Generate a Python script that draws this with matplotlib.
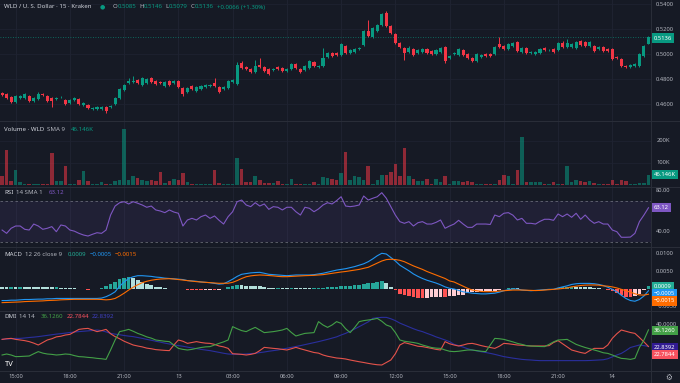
import numpy as np
import matplotlib.pyplot as plt
from matplotlib.lines import Line2D

plt.rcParams['font.family'] = ['Noto Sans', 'DejaVu Sans']

# ---- 15 min candles, WLD/USD, 14:15 day 12 -> 02:00 day 14 ----
opens = [
    .4690, .4682, .4658, .4618, .4650, .4650, .4666, .4626, .4642, .4682,
    .4666, .4650, .4642, .4658, .4634, .4610, .4634, .4642, .4594, .4594,
    .4562, .4562, .4562, .4578, .4578, .4602, .4650, .4714, .4770, .4778,
    .4794, .4754, .4770, .4810, .4786, .4778, .4746, .4786, .4770, .4786,
    .4730, .4698, .4746, .4706, .4722, .4738, .4746, .4770, .4738, .4722,
    .4730, .4778, .4762, .4930, .4898, .4882, .4858, .4914, .4898, .4882,
    .4874, .4898, .4890, .4866, .4882, .4922, .4882, .4874, .4890, .4938,
    .4898, .4906, .4978, .5010, .5010, .4994, .5066, .5010, .5018, .5042,
    .5074, .5186, .5138, .5186, .5234, .5330, .5226, .5162, .5090, .5050,
    .5018, .5042, .5010, .5018, .5042, .5026, .5002, .5018, .5058, .4970,
    .5002, .4994, .5034, .5002, .4970, .4946, .4978, .5002, .5002, .5002,
    .5082, .5066, .5042, .5066, .5098, .5018, .5050, .5010, .5002, .5010,
    .5050, .5034, .5042, .5034, .5090, .5058, .5058, .5050, .5106, .5098,
    .5066, .5066, .5042, .5058, .5042, .5042, .4978, .4962, .4906, .4898,
    .4906, .4906, .4986, .5085]
highs = [
    .4698, .4690, .4666, .4674, .4674, .4690, .4674, .4658, .4698, .4690,
    .4674, .4658, .4658, .4666, .4642, .4642, .4658, .4650, .4618, .4602,
    .4578, .4586, .4586, .4586, .4594, .4658, .4730, .4762, .4810, .4826,
    .4802, .4818, .4810, .4818, .4794, .4786, .4786, .4794, .4794, .4794,
    .4738, .4738, .4754, .4746, .4754, .4762, .4762, .4810, .4746, .4746,
    .4794, .4802, .4938, .4946, .4906, .4890, .4954, .4970, .4906, .4890,
    .4890, .4906, .4898, .4890, .4930, .4930, .4890, .4914, .4954, .4946,
    .4914, .5050, .5018, .5018, .5018, .5090, .5074, .5042, .5050, .5058,
    .5194, .5274, .5218, .5242, .5330, .5346, .5234, .5170, .5098, .5058,
    .5066, .5050, .5042, .5050, .5050, .5034, .5042, .5058, .5066, .4994,
    .5018, .5050, .5042, .5010, .4978, .5010, .5002, .5010, .5010, .5066,
    .5138, .5074, .5090, .5098, .5106, .5058, .5058, .5026, .5026, .5050,
    .5058, .5042, .5050, .5098, .5106, .5122, .5090, .5106, .5114, .5106,
    .5106, .5074, .5066, .5066, .5050, .5050, .4986, .4970, .4914, .4922,
    .4930, .5010, .5074, .5146]
lows = [
    .4666, .4642, .4610, .4610, .4642, .4642, .4618, .4618, .4634, .4666,
    .4618, .4578, .4634, .4650, .4594, .4602, .4626, .4594, .4586, .4562,
    .4554, .4554, .4554, .4530, .4570, .4594, .4642, .4706, .4762, .4770,
    .4762, .4746, .4762, .4770, .4754, .4762, .4738, .4746, .4762, .4730,
    .4666, .4690, .4714, .4698, .4714, .4730, .4738, .4738, .4690, .4714,
    .4722, .4770, .4754, .4882, .4874, .4850, .4850, .4890, .4858, .4834,
    .4866, .4874, .4858, .4858, .4874, .4882, .4850, .4866, .4882, .4898,
    .4890, .4898, .4970, .4978, .4986, .4986, .5002, .5002, .5010, .5034,
    .5066, .5138, .5130, .5178, .5226, .5218, .5162, .5082, .5050, .4954,
    .5010, .4986, .5002, .5010, .5002, .4994, .4994, .5010, .4930, .4962,
    .4994, .4986, .4986, .4962, .4938, .4938, .4970, .4978, .4978, .4994,
    .5050, .5034, .5034, .5058, .5018, .5010, .5002, .5002, .4994, .5002,
    .5026, .5026, .5010, .5026, .5050, .5050, .5050, .5042, .5066, .5058,
    .5058, .5018, .5034, .5018, .5018, .4954, .4962, .4898, .4890, .4890,
    .4898, .4898, .4978, .5079]
closes = [
    .4674, .4650, .4618, .4666, .4666, .4682, .4626, .4650, .4682, .4674,
    .4626, .4626, .4650, .4660, .4602, .4634, .4650, .4602, .4610, .4570,
    .4570, .4578, .4578, .4546, .4586, .4650, .4722, .4754, .4786, .4786,
    .4770, .4810, .4802, .4778, .4762, .4770, .4778, .4754, .4786, .4738,
    .4682, .4730, .4722, .4738, .4746, .4754, .4754, .4746, .4698, .4738,
    .4786, .4794, .4914, .4890, .4882, .4858, .4906, .4898, .4866, .4842,
    .4882, .4882, .4866, .4882, .4922, .4890, .4858, .4906, .4946, .4906,
    .4906, .4970, .5010, .4986, .4994, .5082, .5010, .5034, .5042, .5050,
    .5186, .5146, .5210, .5234, .5322, .5226, .5170, .5090, .5058, .5010,
    .5050, .4994, .5034, .5042, .5010, .5002, .5034, .5050, .4946, .4986,
    .5010, .5042, .4994, .4970, .4946, .5002, .4994, .4986, .4986, .5058,
    .5058, .5042, .5082, .5090, .5026, .5050, .5010, .5018, .5018, .5042,
    .5034, .5036, .5018, .5090, .5058, .5090, .5082, .5098, .5074, .5066,
    .5098, .5026, .5058, .5026, .5026, .4962, .4970, .4906, .4898, .4914,
    .4922, .5002, .5066, .5136]

# volume in thousands
volume = [
    38, 156, 18, 68, 10, 5, 3, 2, 1, 1,
    5, 145, 15, 15, 83, 2, 1, 23, 60, 15,
    5, 3, 10, 3, 5, 15, 20, 253, 20, 38,
    32, 23, 15, 23, 15, 58, 7, 15, 25, 20,
    55, 10, 5, 5, 5, 3, 3, 68, 8, 3,
    3, 3, 121, 71, 14, 14, 41, 20, 8, 8,
    8, 15, 5, 3, 26, 3, 4, 3, 5, 10,
    5, 33, 30, 25, 20, 53, 147, 23, 38, 33,
    20, 83, 5, 20, 42, 45, 56, 95, 38, 167,
    41, 25, 15, 15, 25, 5, 27, 10, 41, 3,
    15, 18, 12, 15, 10, 3, 3, 3, 5, 3,
    23, 45, 38, 5, 68, 217, 10, 12, 12, 12,
    5, 5, 10, 5, 5, 83, 12, 23, 15, 10,
    15, 8, 3, 3, 5, 23, 5, 20, 15, 3,
    5, 8, 8, 46.146]

rsi = [
    41.6, 38.4, 43.3, 45.5, 45.5, 42.3, 41.6, 47.4, 45.5, 42.3,
    43.3, 44.9, 40.0, 46.5, 45.5, 41.6, 40.5, 38.4, 36.8, 35.8,
    37.5, 39.0, 38.4, 41.6, 56.1, 64.8, 68.0, 69.0, 66.8, 69.0,
    67.5, 65.8, 63.6, 64.8, 61.0, 60.0, 58.4, 61.0, 59.0, 57.8,
    45.5, 51.3, 52.9, 51.3, 54.5, 56.1, 52.9, 55.2, 51.0, 47.4,
    54.5, 59.3, 69.0, 70.6, 65.8, 64.2, 68.0, 64.8, 66.8, 61.6,
    64.2, 63.6, 61.0, 63.6, 63.6, 59.3, 56.1, 63.6, 62.6, 59.3,
    62.0, 65.8, 68.0, 66.8, 70.0, 73.8, 64.8, 64.2, 64.8, 65.8,
    74.5, 70.6, 72.3, 73.8, 77.7, 72.3, 64.2, 56.1, 49.7, 48.1,
    49.7, 45.5, 48.7, 49.7, 47.4, 47.4, 49.0, 51.3, 43.3, 45.5,
    47.4, 51.0, 47.4, 44.2, 44.2, 47.4, 47.4, 47.4, 47.0, 56.1,
    54.5, 57.8, 58.4, 56.0, 51.3, 52.9, 48.1, 48.1, 47.4, 50.0,
    52.0, 52.0, 51.0, 57.1, 54.5, 57.1, 53.9, 57.8, 52.0, 56.1,
    51.3, 48.1, 49.7, 47.4, 47.4, 41.6, 40.0, 34.6, 34.6, 34.8,
    38.4, 49.7, 56.1, 63.12]

# MACD values in units of 1e-4
macd_line = [
    -33, -33, -32, -32, -31, -30, -30, -29.5, -29, -29,
    -28, -28, -27, -27, -27, -27, -26.7, -26.7, -26.7, -27,
    -27, -27, -26, -22, -16, -8, 8, 20, 30, 35,
    38, 38, 37, 36, 34, 33, 31, 30, 29, 28,
    27, 24, 23, 22, 20, 19, 18, 16, 14, 15,
    21, 28, 36, 42, 44, 46, 47, 47.6, 45, 42,
    41, 40, 39, 38, 39, 40, 40, 40, 40, 41,
    43, 45, 48, 51, 54, 56, 58, 61, 64, 68,
    72, 78, 86, 95, 102, 100, 90, 80, 68, 60,
    52, 43, 36, 30, 25, 21, 17, 12, 6, 2,
    0, -4, -8, -10, -12, -13, -14, -14, -13, -12,
    -9, -5, -2, 0, 0, -3, -4, -5, -4, -3,
    -2, -1, -1, 3, 6, 9, 13, 15, 16, 16,
    16, 15, 13, 10, 5, -1, -8, -18, -27, -33,
    -35, -30, -20, -5]
signal_line = [
    -39, -38.5, -38, -37.5, -37, -36, -35.5, -35, -34.5, -34,
    -33, -32.5, -32, -31, -30.5, -30, -29.5, -29.5, -29.5, -29.5,
    -29.5, -29.5, -30, -31, -30, -27, -20, -12, -3, 5,
    12, 18, 22, 25, 27, 28.5, 29, 29.5, 28.5, 27,
    25.7, 24, 22.5, 21, 20, 19, 18, 17, 16.2, 16.2,
    16.5, 19, 24, 30, 35, 37.5, 39, 40, 39.5, 38.5,
    37.5, 36, 35.2, 35.2, 36, 37.1, 37.5, 38.1, 38.5, 39,
    40, 41, 42.9, 44.5, 47, 48.5, 50, 52, 54, 56,
    59, 62, 68, 74, 80, 84, 85, 84, 82, 78,
    72, 66, 61, 56, 50, 45, 40, 35, 30, 23,
    20, 14, 8, 2, -3, -5, -7, -7.6, -7.6, -7.6,
    -6, -5, -4, -3, -3, -3, -3.5, -4, -4.5, -4,
    -3, -2, -1, 0, 1.5, 3, 6, 8, 10, 11,
    11.4, 11.4, 11, 9, 8, 6, 3, -1, -5, -9,
    -13.6, -16.9, -17.5, -15]
macd_hist = [
    6, 5.5, 6, 5.5, 6, 6, 5.5, 5.5, 5.5, 5,
    5, 4.5, 5, 4, 3.5, 3, 2.8, -0.5, -1, -1.5,
    -1, -0.5, 4, 9, 14, 19, 28, 32, 33, 30,
    26, 20, 15, 11, 7, 4.5, 2, 0.5, 0.5, 1,
    -0.5, -1.5, -2, -2.5, -3, -3, -2.5, -3, -2, -1,
    4.5, 9, 12, 12, 9, 8.5, 8, 7.6, 5.5, 3.5,
    3.5, 4, 3.8, 2.8, 3, 2.9, 2.5, 1.9, 1.5, 2,
    3, 4, 5.1, 6.5, 7, 7.5, 8, 9, 10, 12,
    13, 16, 18, 21, 22, 16, 5, -4, -14, -18,
    -20, -23, -25, -26, -25, -24, -23, -23, -24, -21,
    -20, -18, -16, -12, -9, -8, -7, -6.4, -5.4, -4.4,
    -3, 0, 2, 3, 3, 0, -0.5, -1, 0.5, 1,
    1, 1, 0, 3, 4.5, 6, 7, 7, 6, 5,
    4.6, 3.6, 2, 1, -3, -7, -11, -17, -22, -24,
    -21, -13, -3, 9]

plus_di = [
    16, 16.8, 16, 14.7, 14.8, 15, 15.2, 17, 18.7, 17.5,
    16.8, 16.5, 16, 16.3, 16.8, 16.5, 15.5, 14.7, 14.5, 14.1,
    13.8, 13.3, 13, 12.5, 20, 28, 34.7, 35.5, 36.5, 35,
    33.3, 32, 30.5, 29.5, 28, 27.5, 27, 26.7, 24, 21.3,
    20.5, 20, 20.5, 21.3, 22, 22.5, 22.7, 24, 25.3, 26.5,
    28, 38.7, 37, 35.5, 34.7, 36.5, 38.1, 36, 33.9, 34.3,
    34.7, 35.3, 36, 37.3, 34, 31.2, 32.3, 33.3, 33.6, 33.9,
    42.7, 40, 38.1, 40, 42.7, 41.3, 37, 33.9, 38, 42.7,
    43.5, 44, 44.5, 45.3, 43, 40, 38.7, 34, 28, 27,
    26.5, 26, 25.3, 24, 23, 22, 21.5, 21.3, 20, 19,
    18.7, 19, 19.5, 20, 20, 19.5, 19, 18.7, 24, 29.3,
    29, 28.5, 27.5, 26.5, 25.3, 24.5, 23.5, 23.2, 23, 22.8,
    22.7, 24.5, 26.5, 28, 28.2, 28.5, 26.5, 24.5, 23.2, 22,
    21, 20, 19, 17.8, 17.3, 16, 14.5, 13.3, 13, 12.5,
    13.3, 22, 28, 36.126]
minus_di = [
    28.5, 29, 29.3, 28.5, 28, 27.5, 26.7, 25.5, 24, 26,
    28, 29, 30.5, 31, 32, 32.5, 34.5, 36.5, 37, 37.3,
    36, 34.7, 35.5, 36.5, 33, 30.7, 29, 27, 25.5, 24,
    23.2, 22.5, 21.5, 21, 20.3, 20, 19.7, 19.5, 24, 28,
    27, 25.3, 26, 26.7, 26, 25.5, 25.3, 24.5, 23.2, 22.5,
    21.3, 17, 16.8, 16.5, 16, 16.5, 17.3, 19.5, 22.1, 21.7,
    21.3, 21, 20.5, 20, 21, 22.1, 21, 20, 19, 18,
    17.5, 16, 15, 14.3, 13.6, 13.3, 12.8, 12, 11.3, 10.6,
    10, 9.3, 8.7, 8.2, 8, 10, 12, 17, 24, 25.9,
    25, 24, 23, 22.7, 22, 21.3, 20.5, 20, 26.7, 25,
    24, 23.2, 24, 25, 25.3, 24.5, 23.5, 22.7, 22, 21.3,
    23, 25.3, 25, 24.5, 24, 23.8, 23.5, 23.2, 23.2, 23.2,
    23.2, 23.5, 26, 27.5, 25, 22.5, 20, 19, 18, 17.3,
    19.5, 21.3, 21.3, 21.3, 24, 29.3, 33, 36, 35, 34,
    33.3, 30, 26.5, 22.7844]
adx = [
    28.5, 28.8, 29, 29.3, 29.3, 29.6, 30, 30.3, 30.7, 31.2,
    31.7, 32.2, 32.7, 33.1, 33.5, 34, 34.4, 34.7, 35, 35.3,
    35.6, 36, 35.5, 34.5, 33.3, 32.7, 32.2, 31.6, 31.1, 30.7,
    30, 29.3, 28.5, 27.8, 27, 26.3, 25.5, 24.8, 24.2, 23.5,
    23, 22.3, 21.7, 21.1, 20.5, 20, 19.5, 18.8, 18.1, 17.4,
    16.8, 16.6, 16.5, 16.6, 16.8, 17.1, 17.4, 17.9, 18.4, 19,
    19.5, 20, 20.7, 21.4, 22.1, 22.8, 23.5, 24.3, 25.1, 25.9,
    26.7, 27.6, 28.5, 29.5, 30.5, 32, 33.3, 35, 36.8, 38.7,
    40.5, 42.5, 45.3, 45.8, 46.1, 46.1, 45, 43.5, 41.5, 40,
    38.5, 37, 35.7, 34.7, 33.3, 32, 30.5, 29.3, 28, 26.7,
    24.5, 23.5, 22.3, 21, 20, 19.3, 18.6, 18, 17.3, 16.5,
    15.6, 14.7, 14.1, 13.5, 13, 12.5, 12.2, 12, 11.7, 11.5,
    11.5, 11.5, 11.5, 11.5, 11.5, 11.5, 11.5, 11.5, 11.5, 11.5,
    11.6, 11.8, 12, 12.2, 13, 14.5, 16, 17.3, 19.5, 22,
    23, 24, 23.5, 22.8392]

time_ticks = [3, 15, 27, 39, 51, 63, 75, 87, 99, 111, 123, 135]
time_labels = ['15:00', '18:00', '21:00', '13', '03:00', '06:00',
               '09:00', '12:00', '15:00', '18:00', '21:00', '14']

BG = '#161A25'
GRID = '#1E2230'
SEP = '#2A2E39'
TXT = '#B2B5BE'
UP = '#089981'
DN = '#F23645'

W, H = 680, 383
PW = 651
x = np.arange(len(closes))
o = np.array(opens); c = np.array(closes)
up = c >= o

fig = plt.figure(figsize=(W / 100, H / 100), dpi=100)
fig.patch.set_facecolor(BG)
renderer = fig.canvas.get_renderer()


def pane(top, bottom, ylim):
    ax = fig.add_axes([0, 1 - bottom / H, PW / W, (bottom - top) / H])
    ax.set_facecolor(BG)
    ax.set_xlim(-0.465, 143.56)
    ax.set_ylim(*ylim)
    ax.set_xticks([])
    ax.set_yticks([])
    for s in ax.spines.values():
        s.set_visible(False)
    for t in time_ticks:
        ax.axvline(t, color=GRID, lw=0.8, zorder=0)
    return ax


def axis_label(ax, v, s):
    ax.text(1.008, v, s, transform=ax.get_yaxis_transform(), fontsize=4.2,
            color=TXT, va='center', ha='left', clip_on=False)


def value_box(y_px, s, fc, tc='white'):
    fig.text(654 / W, 1 - y_px / H, s, fontsize=4.2, color=tc, va='center', ha='left',
             bbox=dict(boxstyle='square,pad=0.35', fc=fc, ec='none'))


def legend_row(x_px, y_px, parts, size=4.4):
    xx = x_px
    for s, col, gap in parts:
        t = fig.text(xx / W, 1 - y_px / H, s, color=col, fontsize=size, va='center', ha='left')
        xx += t.get_window_extent(renderer=renderer).width + gap


# ---- price pane ----
ax1 = pane(0, 121, (0.44664, 0.54344))
for lv in [0.46, 0.48, 0.50, 0.52, 0.54]:
    ax1.axhline(lv, color=GRID, lw=0.6, zorder=0)
    axis_label(ax1, lv, f'{lv:.4f}')
cols = np.where(up, UP, DN)
ax1.vlines(x, lows, highs, color=cols, lw=0.7, zorder=2)
body = np.maximum(np.abs(c - o), 0.0004)
ax1.bar(x, body, bottom=np.minimum(o, c), width=0.68, color=cols, zorder=3, linewidth=0)
ax1.axhline(closes[-1], color=UP, lw=0.6, ls=(0, (1, 2)), alpha=0.8)

# ---- volume pane ----
ax2 = pane(121, 187, (-10.5, 289.5))
for lv, s in [(100, '100K'), (200, '200K')]:
    ax2.axhline(lv, color=GRID, lw=0.6, zorder=0)
    axis_label(ax2, lv, s)
ax2.bar(x, volume, width=0.78, color=cols, alpha=0.55, linewidth=0)

# ---- RSI pane ----
ax3 = pane(187, 247, (25.2, 83.2))
ax3.axhspan(30, 70, color='#7E57C2', alpha=0.1, lw=0)
for lv in [30, 70]:
    ax3.axhline(lv, color='#787B86', lw=0.6, ls=(0, (3, 3)), alpha=0.8)
for lv in [40, 80]:
    axis_label(ax3, lv, f'{lv:.2f}')
ax3.plot(x, rsi, color='#7E57C2', lw=0.8)

# ---- MACD pane ----
ax4 = pane(247, 311, (-0.00629, 0.0120))
for lv, s in [(0.01, '0.0100'), (0.005, '0.0050'), (-0.005, '\u22120.0050')]:
    axis_label(ax4, lv, s)
h = np.array(macd_hist) * 1e-4
hc = []
for i, v in enumerate(h):
    prev = h[i - 1] if i > 0 else v
    if v >= 0:
        hc.append('#26A69A' if v > prev else '#B2DFDB')
    else:
        hc.append('#FF5252' if v < prev else '#FFCDD2')
ax4.bar(x, h, width=0.8, color=hc, linewidth=0)
ax4.plot(x, np.array(macd_line) * 1e-4, color='#2196F3', lw=0.8)
ax4.plot(x, np.array(signal_line) * 1e-4, color='#FF6D00', lw=0.8)

# ---- DMI pane ----
ax5 = pane(311, 371, (3.2, 51.2))
axis_label(ax5, 40, '40.0000')
ax5.plot(x, adx, color='#2A2F9E', lw=0.8)
ax5.plot(x, minus_di, color='#E5534B', lw=0.8)
ax5.plot(x, plus_di, color='#43A047', lw=0.8)

# pane separators
for yp in [121, 187, 247, 311, 371]:
    fig.add_artist(Line2D([0, 1], [1 - yp / H, 1 - yp / H], color=SEP, lw=0.7))
fig.add_artist(Line2D([PW / W, PW / W], [0, 1], color=SEP, lw=0.7))

# time axis
for t, s in zip(time_ticks, time_labels):
    xp = ax5.transData.transform((t, 0))[0]
    fig.text(xp / W, 1 - 377 / H, s, fontsize=4.2, color=TXT, ha='center', va='center')

# price-scale value boxes
value_box(38, '0.5136', UP)
value_box(174.5, '46.146K', UP)
value_box(207.8, '63.12', '#7E57C2')
value_box(286.3, '0.0009', '#22AB94')
value_box(293.3, '\u22120.0005', '#2196F3')
value_box(301, '\u22120.0015', '#FF6D00')
value_box(330.5, '36.1260', '#43A047')
value_box(347.5, '22.8392', '#311B92')
value_box(354.8, '22.7844', '#F7525F')

# legends
legend_row(4, 7, [('WLD / U. S. Dollar \u00b7 15 \u00b7 Kraken', '#D1D4DC', 8),
                  ('\u25cf', UP, 8),
                  ('O', TXT, 0), ('0.5085', UP, 3), ('H', TXT, 0), ('0.5146', UP, 3),
                  ('L', TXT, 0), ('0.5079', UP, 3), ('C', TXT, 0), ('0.5136', UP, 3),
                  ('+0.0066 (+1.30%)', UP, 0)])
legend_row(4, 130, [('Volume \u00b7 WLD', '#D1D4DC', 3), ('SMA 9', TXT, 6), ('46.146K', UP, 0)])
legend_row(4, 192.7, [('RSI', '#D1D4DC', 3), ('14 SMA 1', TXT, 6), ('63.12', '#7E57C2', 0)])
legend_row(4, 254.7, [('MACD', '#D1D4DC', 3), ('12 26 close 9', TXT, 6), ('0.0009', '#22AB94', 3),
                      ('\u22120.0005', '#2196F3', 3), ('\u22120.0015', '#FF6D00', 0)])
legend_row(4, 316.7, [('DMI', '#D1D4DC', 3), ('14 14', TXT, 6), ('36.1260', '#43A047', 3),
                      ('22.7844', '#F7525F', 3), ('22.8392', '#3F3FBF', 0)])

# logo and settings glyph
fig.text(5 / W, 1 - 364 / H, 'TV', fontsize=5.5, color='white', fontweight='bold', va='center')
fig.text(665 / W, 1 - 377 / H, '\u2699', fontsize=5.5, color=TXT, va='center', family='DejaVu Sans')

fig.savefig('out.png', dpi=100, facecolor=BG)
